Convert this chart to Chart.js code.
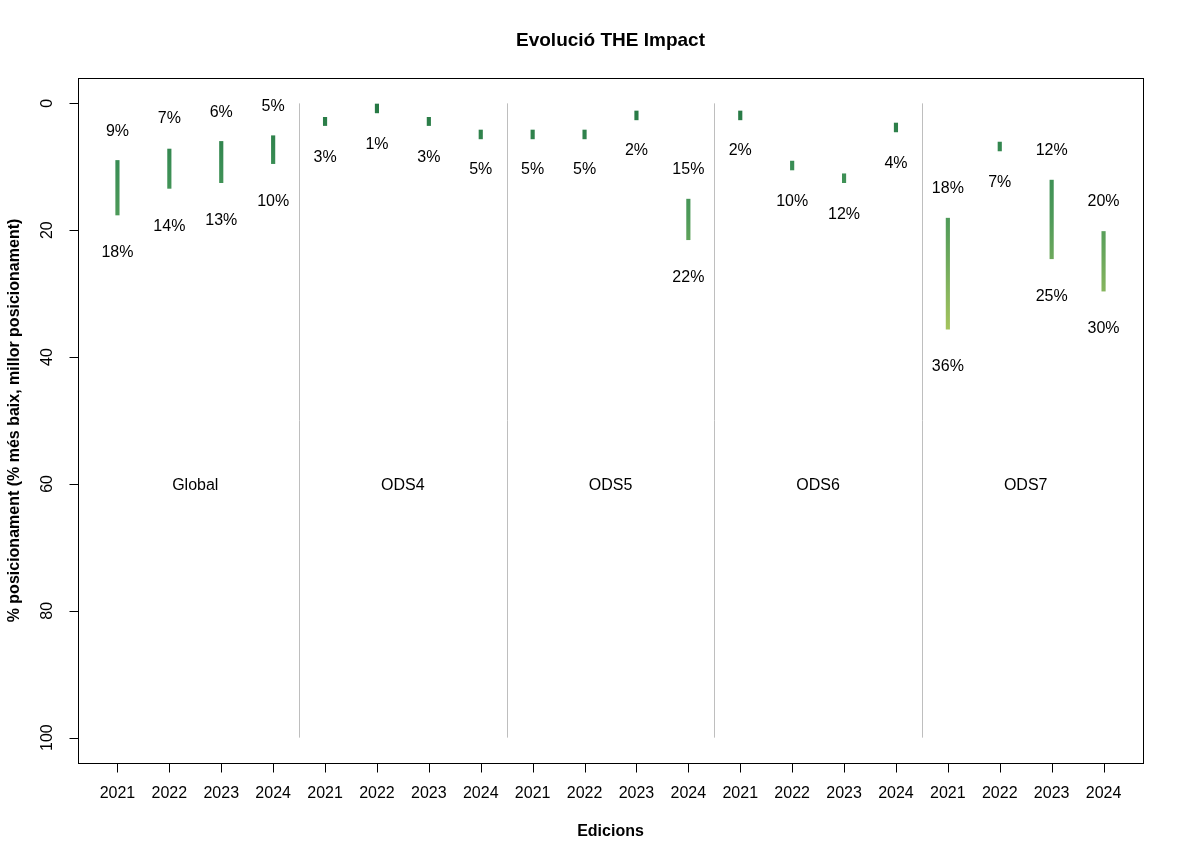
<!DOCTYPE html>
<html lang="ca">
<head>
    <meta charset="UTF-8">
    <title>Evolució THE Impact</title>
    <script src="https://cdn.jsdelivr.net/npm/chart.js"></script>
    <style>
        body { margin: 0; background: #fff; }
        canvas { display: block; }
    </style>
</head>
<body>
    <canvas id="theChart" width="1184" height="861"></canvas>

    <script>
        // data
        const groups = ['Global', 'ODS4', 'ODS5', 'ODS6', 'ODS7'];
        const edicions = ['2021', '2022', '2023', '2024',
                          '2021', '2022', '2023', '2024',
                          '2021', '2022', '2023', '2024',
                          '2021', '2022', '2023', '2024',
                          '2021', '2022', '2023', '2024'];
        // top (best) and bottom (worst) end of each bar, in %
        const barTop = [9.0, 7.2, 6.0, 5.1,
                        2.2, 0.1, 2.2, 4.2,
                        4.2, 4.2, 1.2, 15.1,
                        1.2, 9.1, 11.1, 3.1,
                        18.1, 6.1, 12.1, 20.2];
        const barBottom = [17.6, 13.4, 12.5, 9.5,
                           3.5, 1.5, 3.5, 5.6,
                           5.6, 5.6, 2.6, 21.5,
                           2.6, 10.5, 12.5, 4.5,
                           35.6, 7.5, 24.5, 29.6];
        // percentage labels shown above / below the bars (null = none)
        const labelTop = [9, 7, 6, 5,
                          null, null, null, null,
                          null, null, null, 15,
                          null, null, null, null,
                          18, null, 12, 20];
        const labelBottom = [18, 14, 13, 10,
                             3, 1, 3, 5,
                             5, 5, 2, 22,
                             2, 10, 12, 4,
                             36, 7, 25, 30];
        const yTicks = [0, 20, 40, 60, 80, 100];

        const FONT = '"Liberation Sans", Arial, sans-serif';

        function barGradient(context) {
            const chart = context.chart;
            if (!chart.chartArea) return '#3a8e55';
            const y = chart.scales.y;
            const y0 = y.getPixelForValue(0);
            const y1 = y.getPixelForValue(40);
            const g = chart.ctx.createLinearGradient(0, y0, 0, y1);
            g.addColorStop(0, '#257743');
            g.addColorStop(0.25, '#3a8e55');
            g.addColorStop(0.45, '#4e9a59');
            g.addColorStop(0.62, '#6ea95c');
            g.addColorStop(0.75, '#88b65e');
            g.addColorStop(0.9, '#a6c45c');
            g.addColorStop(1, '#b2ca5c');
            return g;
        }

        // R-style frame, axes and texts
        const baseDrawing = {
            id: 'baseDrawing',
            beforeDatasetsDraw(chart) {
                const ctx = chart.ctx;
                const xs = chart.scales.x, ys = chart.scales.y;
                ctx.save();
                // group separators
                ctx.strokeStyle = '#bebebe';
                ctx.lineWidth = 1;
                for (let k = 1; k < groups.length; k++) {
                    const px = Math.round(xs.getPixelForValue(k * 4 + 0.5)) + 0.5;
                    ctx.beginPath();
                    ctx.moveTo(px, ys.getPixelForValue(0));
                    ctx.lineTo(px, ys.getPixelForValue(100));
                    ctx.stroke();
                }
                // group names
                ctx.fillStyle = '#000';
                ctx.font = '16px ' + FONT;
                ctx.textAlign = 'center';
                ctx.textBaseline = 'middle';
                groups.forEach((g, k) => {
                    ctx.fillText(g, xs.getPixelForValue(k * 4 + 2.5), ys.getPixelForValue(60) + 2);
                });
                ctx.restore();
            },
            afterDatasetsDraw(chart) {
                const ctx = chart.ctx;
                const xs = chart.scales.x, ys = chart.scales.y;
                const area = chart.chartArea;
                ctx.save();
                ctx.fillStyle = '#000';
                ctx.font = '16px ' + FONT;
                ctx.textAlign = 'center';
                ctx.textBaseline = 'middle';
                // bar labels
                for (let i = 0; i < edicions.length; i++) {
                    const px = xs.getPixelForValue(i + 1);
                    if (labelTop[i] !== null) {
                        ctx.fillText(labelTop[i] + '%', px, ys.getPixelForValue(labelTop[i] - 5) + 3);
                    }
                    if (labelBottom[i] !== null) {
                        ctx.fillText(labelBottom[i] + '%', px, ys.getPixelForValue(labelBottom[i] + 5) + 3);
                    }
                }

                // frame
                ctx.strokeStyle = '#000';
                ctx.lineWidth = 1;
                ctx.strokeRect(Math.round(area.left) + 0.5, Math.round(area.top) + 0.5,
                    Math.round(area.right - area.left), Math.round(area.bottom - area.top));

                // x axis
                const bottom = Math.round(area.bottom) + 0.5;
                ctx.beginPath();
                edicions.forEach((e, i) => {
                    const px = Math.round(xs.getPixelForValue(i + 1)) + 0.5;
                    ctx.moveTo(px, bottom);
                    ctx.lineTo(px, bottom + 9);
                });
                ctx.stroke();
                edicions.forEach((e, i) => {
                    ctx.fillText(e, xs.getPixelForValue(i + 1), 794);
                });

                // y axis, labels turned like in R
                const left = Math.round(area.left) + 0.5;
                ctx.beginPath();
                yTicks.forEach(t => {
                    const py = Math.round(ys.getPixelForValue(t)) + 0.5;
                    ctx.moveTo(left, py);
                    ctx.lineTo(left - 9, py);
                });
                ctx.stroke();
                yTicks.forEach(t => {
                    ctx.save();
                    ctx.translate(48, ys.getPixelForValue(t));
                    ctx.rotate(-Math.PI / 2);
                    ctx.fillText(String(t), 0, 0);
                    ctx.restore();
                });

                // titles
                ctx.font = 'bold 16px ' + FONT;
                ctx.fillText('Edicions', (area.left + area.right) / 2, 832);
                ctx.save();
                ctx.translate(15, (area.top + area.bottom) / 2);
                ctx.rotate(-Math.PI / 2);
                ctx.fillText('% posicionament (% més baix, millor posicionament)', 0, 0);
                ctx.restore();
                ctx.font = 'bold 19px ' + FONT;
                ctx.fillText('Evolució THE Impact', (area.left + area.right) / 2, 41);
                ctx.restore();
            }
        };

        const ctx = document.getElementById('theChart').getContext('2d');
        window.myChart = new Chart(ctx, {
            type: 'bar',
            data: {
                datasets: [{
                    label: 'THE Impact',
                    data: barTop.map((t, i) => ({ x: i + 1, y: [t, barBottom[i]] })),
                    backgroundColor: barGradient,
                    borderWidth: 0,
                    barThickness: 3.5,
                }]
            },
            options: {
                responsive: false,
                animation: false,
                layout: { padding: { left: 78, top: 78, right: 41, bottom: 98 } },
                plugins: {
                    legend: { display: false },
                    tooltip: { enabled: false },
                    title: { display: false }
                },
                scales: {
                    x: {
                        type: 'linear',
                        display: false,
                        offset: false,
                        grid: { offset: false },
                        min: 0.24,
                        max: 20.76
                    },
                    y: {
                        type: 'linear',
                        display: false,
                        reverse: true,
                        min: -4,
                        max: 104
                    }
                }
            },
            plugins: [baseDrawing]
        });
    </script>
</body>
</html>
